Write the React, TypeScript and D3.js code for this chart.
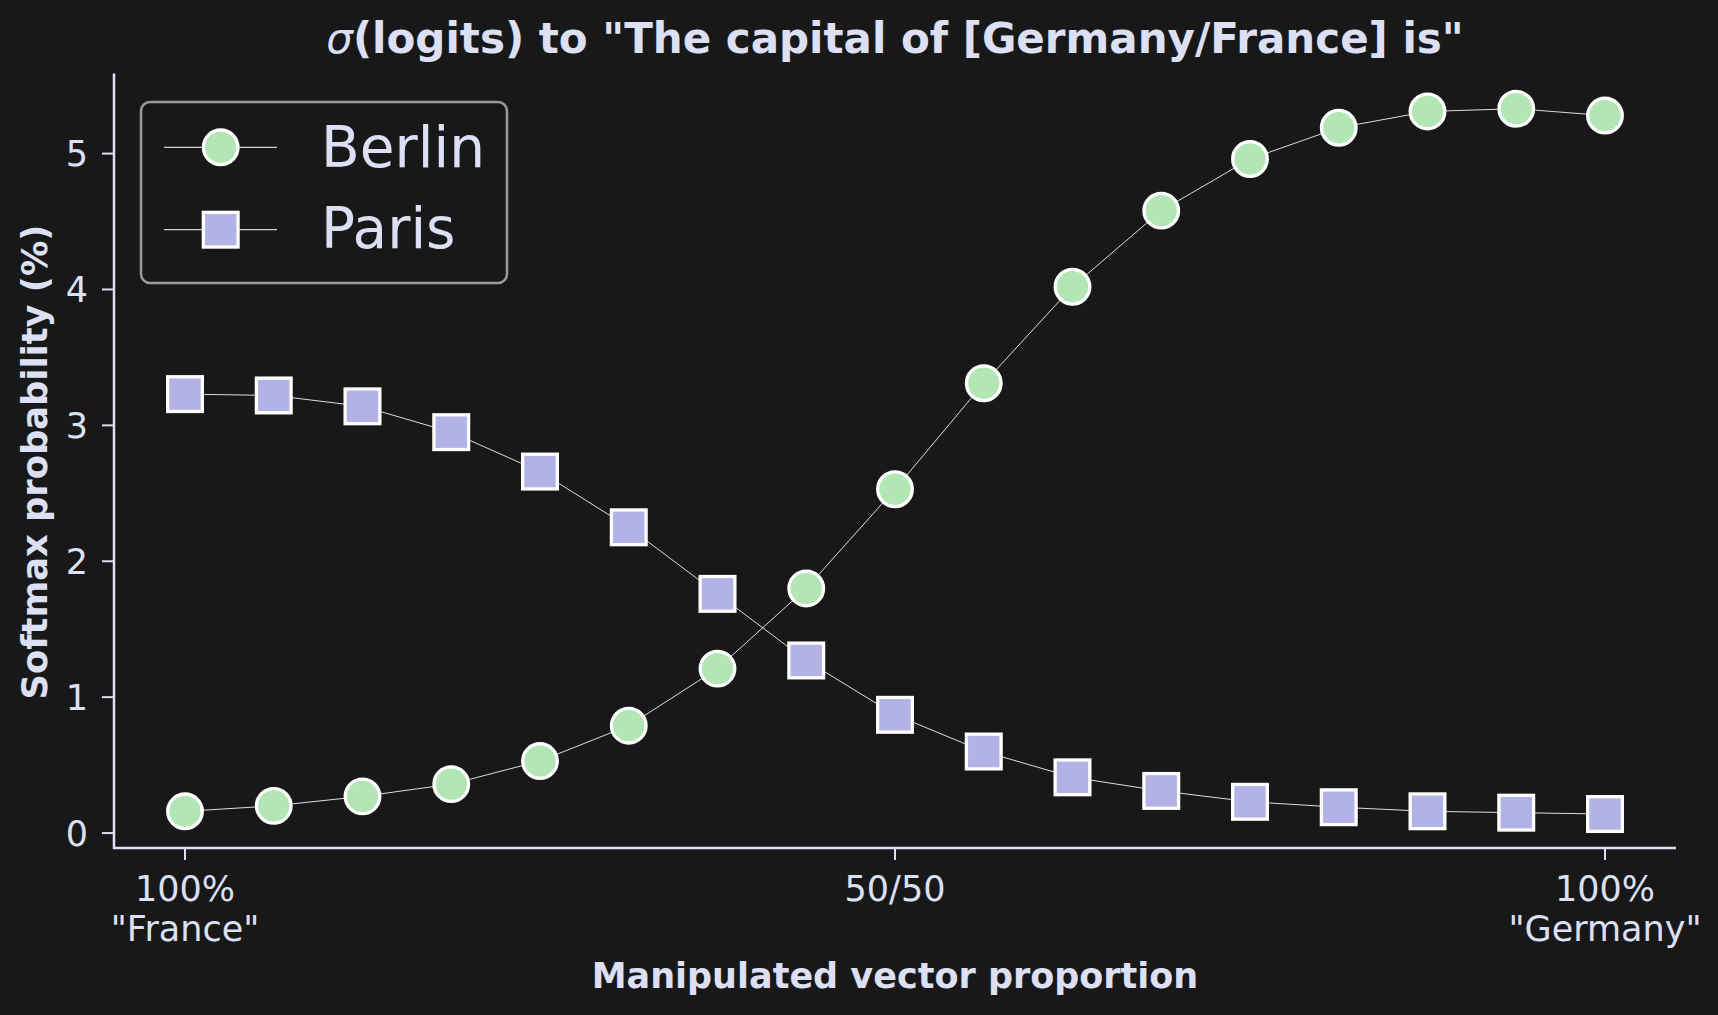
import React from "react";
import * as d3 from "d3";

const xIndex = d3.range(17);
const berlin = [0.16, 0.2, 0.27, 0.36, 0.53, 0.79, 1.21, 1.8, 2.53, 3.31, 4.02, 4.58, 4.96, 5.19, 5.31, 5.33, 5.28];
const paris = [3.23, 3.22, 3.14, 2.95, 2.66, 2.25, 1.76, 1.27, 0.87, 0.6, 0.41, 0.31, 0.23, 0.19, 0.16, 0.15, 0.14];
const yTicks = [0, 1, 2, 3, 4, 5];
const xTickPos = [0, 8, 16];
const xTickLabels = [["100%", '"France"'], ["50/50"], ["100%", '"Germany"']];

const W = 1718, H = 1015;
const BG = "#181818";
const FG = "#dde0f5";
const GREEN = "#b2e6b4";
const PURPLE = "#b2b2e6";
const FONT = "DejaVu Sans";

export default function App() {
  const x = d3.scaleLinear().domain([-0.8, 16.8]).range([114, 1676]);
  const y = d3.scaleLinear().domain([-0.11, 5.59]).range([848, 73.4]);
  const line = d3.line<number>().x((_, i) => x(i)).y((d) => y(d));
  const r = 17.3;
  const s = 34.7;
  return (
    <svg width={W} height={H} style={{ display: "block", position: "absolute", left: 0, top: 0 }} fontFamily={FONT}>
      <rect width={W} height={H} fill={BG} />
      {/* title */}
      <text x={895} y={53} textAnchor="middle" fill={FG} fontSize={42} fontWeight="bold">
        <tspan fontStyle="italic" fontWeight="normal">σ</tspan>(logits) to "The capital of [Germany/France] is"
      </text>
      {/* axes */}
      <line x1={114} x2={114} y1={73.4} y2={849} stroke={FG} strokeWidth={2.5} />
      <line x1={113} x2={1676} y1={848} y2={848} stroke={FG} strokeWidth={2.5} />
      {yTicks.map((t) => (
        <g key={t}>
          <line x1={102} x2={114} y1={y(t)} y2={y(t)} stroke={FG} strokeWidth={2} />
          <text x={88} y={y(t) + 12.5} textAnchor="end" fill={FG} fontSize={35}>{t}</text>
        </g>
      ))}
      {xTickPos.map((t, i) => (
        <g key={t}>
          <line x1={x(t)} x2={x(t)} y1={848} y2={860} stroke={FG} strokeWidth={2} />
          {xTickLabels[i].map((l, j) => (
            <text key={j} x={x(t)} y={901 + j * 40} textAnchor="middle" fill={FG} fontSize={35}>{l}</text>
          ))}
        </g>
      ))}
      <text x={895} y={988} textAnchor="middle" fill={FG} fontSize={35} fontWeight="bold">Manipulated vector proportion</text>
      <text transform={`translate(47,462) rotate(-90)`} textAnchor="middle" fill={FG} fontSize={35.3} fontWeight="bold">Softmax probability (%)</text>
      {/* lines */}
      <path d={line(berlin) || ""} fill="none" stroke="#ffffff" strokeOpacity={0.85} strokeWidth={1} />
      <path d={line(paris) || ""} fill="none" stroke="#ffffff" strokeOpacity={0.85} strokeWidth={1} />
      {berlin.map((v, i) => (
        <circle key={"b" + i} cx={x(xIndex[i])} cy={y(v)} r={r} fill={GREEN} stroke="#fff" strokeWidth={3.3} />
      ))}
      {paris.map((v, i) => (
        <rect key={"p" + i} x={x(xIndex[i]) - s / 2} y={y(v) - s / 2} width={s} height={s} fill={PURPLE} stroke="#fff" strokeWidth={3.3} />
      ))}
      {/* legend */}
      <rect x={141} y={102} width={366} height={181} rx={9} fill={BG} stroke="#9a9a9a" strokeWidth={2.5} />
      <line x1={164} x2={277} y1={147.3} y2={147.3} stroke="#fff" strokeWidth={1} />
      <circle cx={220.7} cy={147.3} r={r} fill={GREEN} stroke="#fff" strokeWidth={3.3} />
      <text x={321} y={167.3} fill={FG} fontSize={56.5}>Berlin</text>
      <line x1={164} x2={277} y1={229.7} y2={229.7} stroke="#fff" strokeWidth={1} />
      <rect x={220.7 - s / 2} y={229.7 - s / 2} width={s} height={s} fill={PURPLE} stroke="#fff" strokeWidth={3.3} />
      <text x={321} y={248} fill={FG} fontSize={56.5}>Paris</text>
    </svg>
  );
}
